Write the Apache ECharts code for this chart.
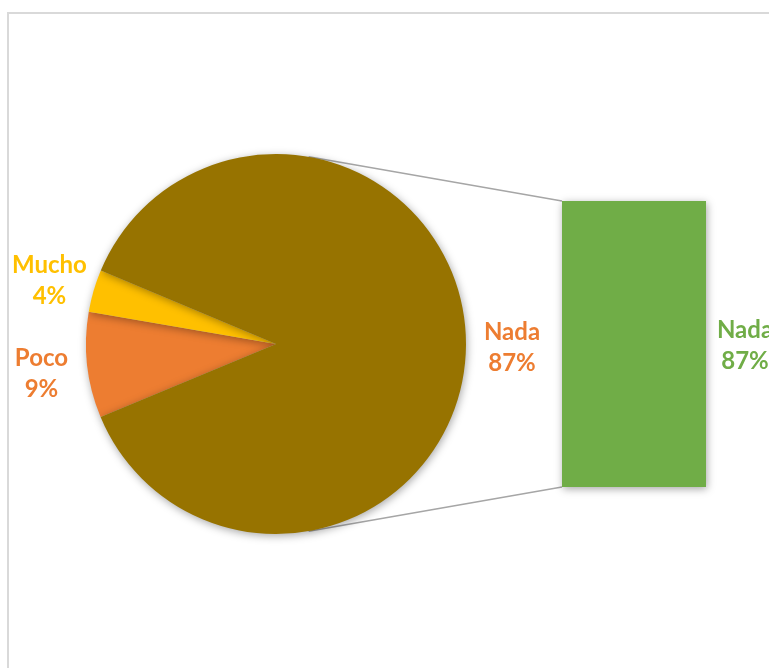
<!DOCTYPE html>
<html>
<head>
<meta charset="utf-8">
<script src="https://cdn.jsdelivr.net/npm/echarts@6/dist/echarts.min.js"></script>
<style>
html,body{margin:0;padding:0;background:#fff;}
#chart{width:769px;height:668px;}
</style>
</head>
<body>
<div id="chart"></div>
<script>
// ---- data ----
const pieNames = ['Poco', 'Mucho', 'Nada'];
const pieValues = [9.0, 3.6, 87.4];
const barNames = ['Nada'];
const barValues = [87];

// ---- styles ----
const pieColors = ['#ED7D31', '#FFC000', '#977300'];
const pieLabelColors = ['#ED7D31', '#FFC000', '#ED7D31'];
const barColor = '#70AD47';
const FONT = 'Lato';

const chart = echarts.init(document.getElementById('chart'), null, {renderer: 'canvas'});

const shadow = {shadowBlur: 8, shadowColor: 'rgba(0,0,0,0.35)', shadowOffsetX: 1, shadowOffsetY: 2};

function pieLabelLayout(params) {
  const data = chart.getModel().getSeriesByIndex(0).getData();
  const l = data.getItemLayout(params.dataIndex);
  const mid = (l.startAngle + l.endAngle) / 2;
  const d = l.r + 46;
  return {
    x: l.cx + d * Math.cos(mid),
    y: l.cy + d * Math.sin(mid) + 3,
    align: 'center',
    verticalAlign: 'middle'
  };
}

const option = {
  animation: false,
  backgroundColor: '#ffffff',
  grid: {left: 562, top: 201, width: 144, height: 286},
  xAxis: {type: 'category', data: barNames, show: false},
  yAxis: {type: 'value', min: 0, max: 87, show: false},
  series: [
    {
      type: 'pie',
      center: [276, 344],
      radius: 190,
      startAngle: 202.6,
      clockwise: true,
      avoidLabelOverlap: false,
      percentPrecision: 0,
      data: pieNames.map((n, i) => ({
        name: n,
        value: pieValues[i],
        itemStyle: Object.assign({color: pieColors[i]}, shadow),
        label: {color: pieLabelColors[i]}
      })),
      label: {
        show: true,
        position: 'outside',
        formatter: '{b}\n{d}%',
        fontFamily: FONT,
        fontWeight: 'bold',
        fontSize: 24,
        lineHeight: 31,
        align: 'center'
      },
      labelLine: {show: false},
      labelLayout: pieLabelLayout,
      emphasis: {disabled: true}
    },
    {
      type: 'bar',
      data: barValues,
      barWidth: '100%',
      itemStyle: Object.assign({color: barColor}, shadow),
      label: {
        show: true,
        position: 'right',
        distance: 39,
        align: 'center',
        offset: [0, 2],
        formatter: p => p.name + '\n' + p.value + '%',
        color: barColor,
        fontFamily: FONT,
        fontWeight: 'bold',
        fontSize: 24,
        lineHeight: 31
      },
      emphasis: {disabled: true}
    }
  ]
};
chart.setOption(option);

// connector lines: tangents from pie to bar corners
function connectors() {
  const pl = chart.getModel().getSeriesByIndex(0).getData().getItemLayout(0);
  const bl = chart.getModel().getSeriesByIndex(1).getData().getItemLayout(0);
  const cx = pl.cx, cy = pl.cy, r = pl.r;
  const bx = bl.x;
  const yTop = Math.min(bl.y, bl.y + bl.height);
  const yBot = Math.max(bl.y, bl.y + bl.height);
  function tangent(px, py, sign) {
    const dx = px - cx, dy = py - cy;
    const d = Math.sqrt(dx * dx + dy * dy);
    const base = Math.atan2(dy, dx);
    const a = base + sign * Math.acos(r / d);
    return [cx + r * Math.cos(a), cy + r * Math.sin(a)];
  }
  const t1 = tangent(bx, yTop, -1);
  const t2 = tangent(bx, yBot, 1);
  const ls = {stroke: '#A6A6A6', lineWidth: 1.5};
  chart.setOption({
    graphic: [
      {type: 'rect', shape: {x: 8, y: 13, width: 820, height: 720}, style: {fill: null, stroke: '#D9D9D9', lineWidth: 2}, z: -10, silent: true},
      {type: 'line', shape: {x1: t1[0], y1: t1[1], x2: bx, y2: yTop}, style: ls, z: -1, silent: true},
      {type: 'line', shape: {x1: t2[0], y1: t2[1], x2: bx, y2: yBot}, style: ls, z: -1, silent: true}
    ]
  });
}
connectors();
</script>
</body>
</html>
